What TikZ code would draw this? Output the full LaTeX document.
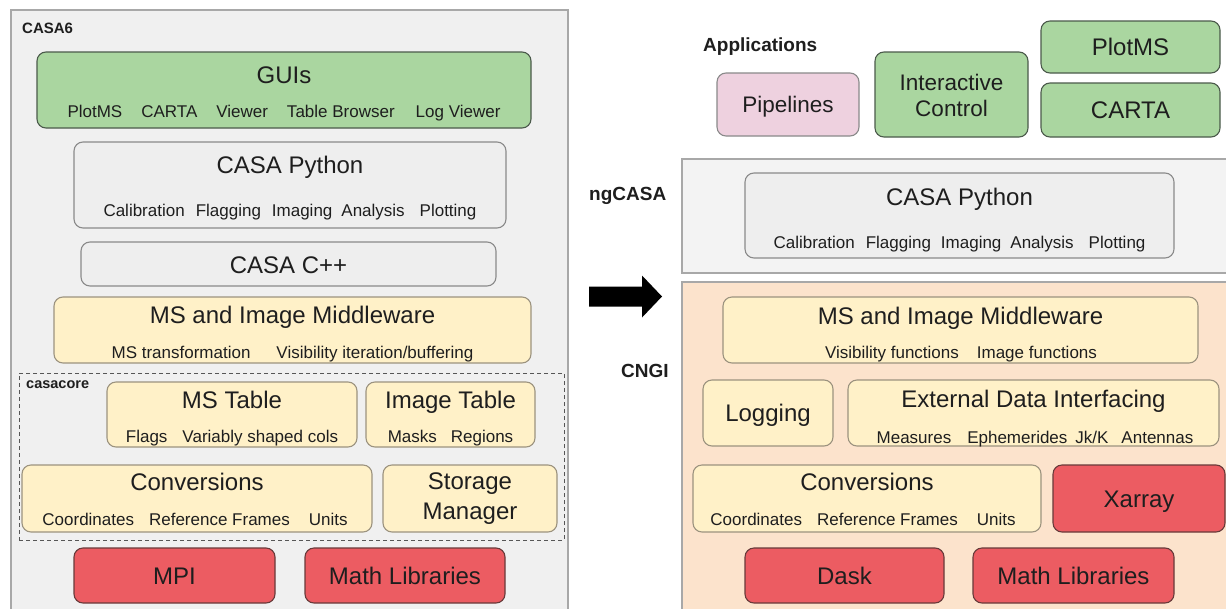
\documentclass[tikz,border=0pt]{standalone}
\usepackage{fontspec}
\setmainfont{Liberation Sans}
\definecolor{cgreen}{HTML}{AAD6A0}
\definecolor{cpink}{HTML}{EED1DF}
\definecolor{cred}{HTML}{EC5C62}
\definecolor{cyel}{HTML}{FFF1C8}
\definecolor{cpeach}{HTML}{FCE3CC}
\definecolor{cgrey}{HTML}{EEEEEE}
\definecolor{cpanel}{HTML}{F0F0F0}
\definecolor{cpanel2}{HTML}{F3F3F3}
\definecolor{edge}{HTML}{8A8A8A}
\definecolor{yedge}{HTML}{9C937F}
\definecolor{pedge}{HTML}{A8A8A8}
\definecolor{ink}{HTML}{1E1E1E}
\newcommand\gp[1]{\hspace{#1pt}}
\newcommand\mkbox[6]{\node[#1, minimum width={#5-#3}, minimum height={#6-#4}] (#2) at ({(#3+#5)/2},{(#4+#6)/2}) {};}
\begin{document}
\begin{tikzpicture}[x=1pt,y=-1pt,
  bx/.style={draw=edge, line width=1.1pt, rounded corners=9pt, inner sep=0pt},
  grnbox/.style={bx, fill=cgreen, draw=edge!90!green!60!black},
  pinkbox/.style={bx, fill=cpink},
  redbox/.style={bx, fill=cred, draw=edge!70!red!60!black},
  yelbox/.style={bx, fill=cyel, draw=yedge},
  greybox/.style={bx, fill=cgrey},
  panel/.style={draw=pedge, line width=1.2pt, inner sep=0pt},
  ttl/.style={font=\fontsize{24}{28}\selectfont, text=ink, inner sep=0pt, text height=17.2pt, text depth=0pt},
  ttltwo/.style={font=\fontsize{24}{30}\selectfont, text=ink, inner sep=0pt, align=center},
  sub/.style={font=\fontsize{17}{20}\selectfont, text=ink, inner sep=0pt, text height=12.2pt, text depth=0pt},
  lbl/.style={font=\bfseries\fontsize{15}{18}\selectfont, text=ink, anchor=west, inner sep=0pt, text height=10.8pt, text depth=0pt},
  biglbl/.style={lbl, font=\bfseries\fontsize{19}{22}\selectfont, text height=13.6pt}
]
\useasboundingbox (0,0) rectangle (1226,608);
\clip (0,0) rectangle (1226,608);
\fill[white] (0,0) rectangle (1226,608);

% ---------------- left: CASA6 ----------------
\mkbox{panel, fill=cpanel}{casa6}{11}{10}{568}{620}
\node[lbl] (casa6l) at (22,28) {CASA6};

\mkbox{grnbox}{gui}{37}{52}{531}{128}
\node[ttl] (guiT) at (284,75) {GUIs};
\node[sub] (guiS) at (284,111.5) {PlotMS\gp{19}CARTA\gp{19}Viewer\gp{19}Table Browser\gp{21}Log Viewer};

\mkbox{greybox}{pyL}{74}{142}{506}{228}
\node[ttl] (pyLT) at (290,165) {CASA Python};
\node[sub] (pyLS) at (290,210.5) {Calibration\gp{11}Flagging\gp{11}Imaging\gp{9}Analysis\gp{15}Plotting};

\mkbox{greybox}{cpp}{81}{242}{496}{286}
\node[ttl] (cppT) at (288.5,265) {CASA C++};

\mkbox{yelbox}{mwL}{54}{297}{531}{363}
\node[ttl] (mwLT) at (292.5,314.5) {MS and Image Middleware};
\node[sub] (mwLS) at (292.5,352) {MS transformation\gp{26}Visibility iteration/buffering};

\mkbox{draw=ink!75, dashed, dash pattern=on 4pt off 3pt, line width=1pt, inner sep=0pt}{casacore}{19}{373}{564}{540}
\node[lbl, font=\bfseries\fontsize{14.5}{18}\selectfont] (casacorel) at (26,383) {casacore};

\mkbox{yelbox}{mst}{107}{382}{357}{447}
\node[ttl] (mstT) at (232,399.5) {MS Table};
\node[sub] (mstS) at (232,436) {Flags\gp{15}Variably shaped cols};

\mkbox{yelbox}{imt}{366}{382}{535}{447}
\node[ttl] (imtT) at (450.5,399.5) {Image Table};
\node[sub] (imtS) at (450.5,436) {Masks\gp{14}Regions};

\mkbox{yelbox}{convL}{22}{465}{372}{532}
\node[ttl] (convLT) at (197,481.5) {Conversions};
\node[sub] (convLS) at (195,519) {Coordinates\gp{15}Reference Frames\gp{19}Units};

\mkbox{yelbox}{stor}{383}{465}{557}{532}
\node[ttltwo] (storT) at (470,499) {Storage\\Manager};

\mkbox{redbox}{mpi}{74}{548}{275}{603}
\node[ttl] (mpiT) at (174.5,575.5) {MPI};
\mkbox{redbox}{mathL}{305}{548}{505}{603}
\node[ttl] (mathLT) at (405,575.5) {Math Libraries};

% ---------------- arrow ----------------
\fill[black] (589,286.5) -- (642,286.5) -- (642,275.5) -- (662,296.5) -- (642,317.5) -- (642,306.5) -- (589,306.5) -- cycle;

% ---------------- right: applications ----------------
\node[biglbl] (appl) at (703,45) {Applications};

\mkbox{pinkbox}{pipe}{717}{73}{859}{136}
\node[ttl, font=\fontsize{22.5}{26}\selectfont, text height=16.1pt] (pipeT) at (788,104.5) {Pipelines};

\mkbox{grnbox}{inter}{875}{52}{1028}{137}
\node[ttltwo, font=\fontsize{22.5}{26}\selectfont] (interT) at (951.5,95.5) {Interactive\\Control};

\mkbox{grnbox}{plotms}{1041}{21}{1220}{73}
\node[ttl] (plotmsT) at (1130.5,47) {PlotMS};
\mkbox{grnbox}{carta}{1041}{83}{1220}{137}
\node[ttl] (cartaT) at (1130.5,110) {CARTA};

% ---------------- ngCASA ----------------
\mkbox{panel, fill=cpanel2}{ngcasa}{682}{159}{1240}{273}
\node[biglbl] (ngcasal) at (589,194) {ngCASA};

\mkbox{greybox}{pyR}{745}{173}{1174}{258}
\node[ttl] (pyRT) at (959.5,197) {CASA Python};
\node[sub] (pyRS) at (959.5,242) {Calibration\gp{11}Flagging\gp{10}Imaging\gp{9}Analysis\gp{15}Plotting};

% ---------------- CNGI ----------------
\mkbox{panel, fill=cpeach}{cngi}{682}{282}{1240}{620}
\node[biglbl] (cngil) at (621,371) {CNGI};

\mkbox{yelbox}{mwR}{723}{297}{1198}{363}
\node[ttl] (mwRT) at (960.5,316) {MS and Image Middleware};
\node[sub] (mwRS) at (961,352) {Visibility functions\gp{18}Image functions};

\mkbox{yelbox}{logg}{703}{380}{833}{446}
\node[ttl] (loggT) at (768,413) {Logging};

\mkbox{yelbox}{edi}{848}{380}{1219}{446}
\node[ttl] (ediT) at (1033.5,399) {External Data Interfacing};
\node[sub] (ediS) at (1035,437) {Measures\gp{16}Ephemerides\gp{8}Jk/K\gp{13}Antennas};

\mkbox{yelbox}{convR}{693}{465}{1041}{532}
\node[ttl] (convRT) at (867,482) {Conversions};
\node[sub] (convRS) at (863,519.5) {Coordinates\gp{15}Reference Frames\gp{19}Units};

\mkbox{redbox}{xarr}{1053}{465}{1225}{532}
\node[ttl] (xarrT) at (1139,498.5) {Xarray};

\mkbox{redbox}{dask}{745}{548}{944}{603}
\node[ttl] (daskT) at (844.5,575.5) {Dask};
\mkbox{redbox}{mathR}{973}{548}{1174}{603}
\node[ttl] (mathRT) at (1073.5,575.5) {Math Libraries};
\end{tikzpicture}
\end{document}
